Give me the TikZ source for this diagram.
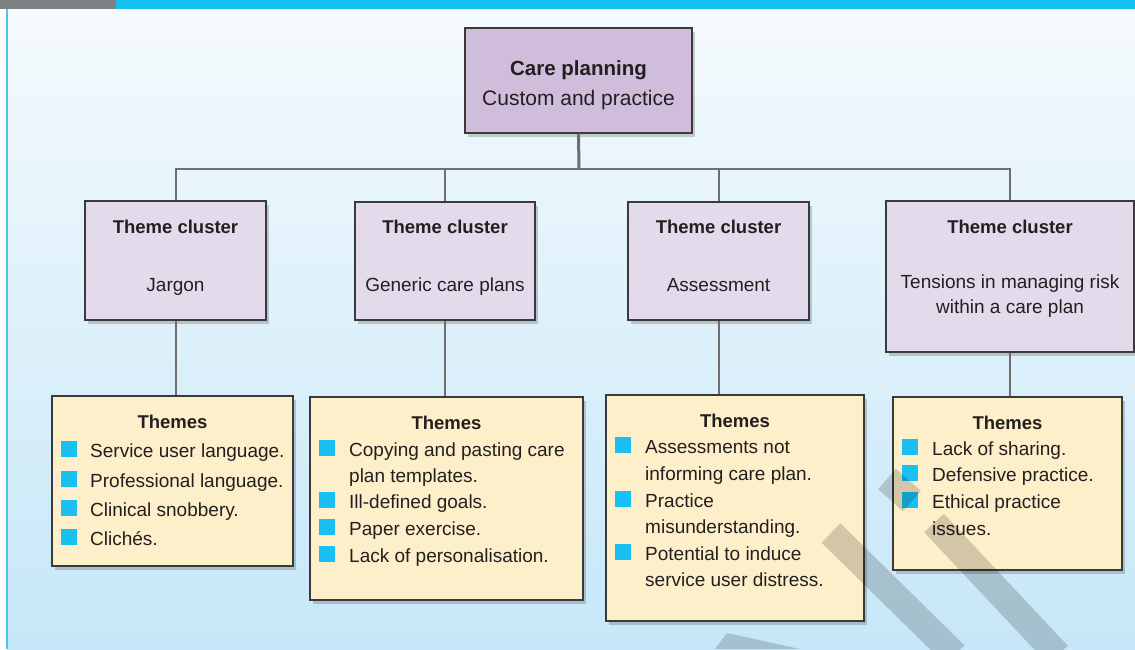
\documentclass[tikz,border=0pt]{standalone}
\usepackage{fontspec}
\setmainfont{Liberation Sans}
\usetikzlibrary{shadows}
\definecolor{bgtop}{HTML}{F5FAFD}
\definecolor{bgbot}{HTML}{C6E7F8}
\definecolor{bannergray}{HTML}{7F8083}
\definecolor{bannercyan}{HTML}{16C0F0}
\definecolor{edgecyan}{HTML}{4CC6EE}
\definecolor{topfill}{HTML}{D0BDDB}
\definecolor{clfill}{HTML}{E3DBEB}
\definecolor{thfill}{HTML}{FDEFC9}
\definecolor{boxline}{HTML}{3A3A3A}
\definecolor{connc}{HTML}{6E6E6E}
\definecolor{bulc}{HTML}{19C0F1}
\definecolor{ink}{HTML}{231F20}
\tikzset{
  box/.style={draw=boxline, line width=1.1pt, inner sep=0pt,
    drop shadow={shadow xshift=3pt, shadow yshift=-4pt, opacity=0.18, fill=black}},
  topbox/.style={box, fill=topfill},
  clbox/.style={box, fill=clfill},
  thbox/.style={box, fill=thfill},
  conn/.style={draw=connc, line width=2pt},
  txt/.style={anchor=base west, inner sep=0pt, text=ink, font=\fontsize{19pt}{23pt}\selectfont},
  ctxt/.style={txt, anchor=base},
  hd/.style={anchor=base, inner sep=0pt, text=ink, font=\fontsize{18.5pt}{22pt}\selectfont\bfseries},
  bigtxt/.style={anchor=base, inner sep=0pt, text=ink, font=\fontsize{21pt}{25pt}\selectfont},
  bul/.style={fill=bulc, inner sep=0pt, minimum size=16pt, anchor=south west},
  band/.style={draw=black, line width=27pt, draw opacity=0.17, line cap=butt},
}
\begin{document}
\begin{tikzpicture}[x=1pt,y=-1pt]
\useasboundingbox (0,0) rectangle (1135,649);
% background
\fill[white] (0,0) rectangle (1135,649);
\shade[top color=bgtop, bottom color=bgbot] (7,9) rectangle (1135,649);
\draw[edgecyan, line width=1.5pt] (7,9) -- (7,649);
\fill[bannergray] (0,0) rectangle (116,9);
\fill[bannercyan] (116,0) rectangle (1135,9);

% top box
\node[topbox, minimum width=227pt, minimum height=105pt] (top) at (578.5,80.5) {};
\node[bigtxt, font=\fontsize{20.5pt}{25pt}\selectfont\bfseries] (topA) at (578.5,75) {Care planning};
\node[bigtxt] (topB) at (578.5,105) {Custom and practice};

% cluster boxes
\node[clbox, minimum width=181pt, minimum height=119pt] (c1) at (175.5,260.5) {};
\node[clbox, minimum width=180pt, minimum height=118pt] (c2) at (445,261) {};
\node[clbox, minimum width=181pt, minimum height=118pt] (c3) at (718.5,261) {};
\node[clbox, minimum width=248pt, minimum height=151pt] (c4) at (1010,276.5) {};

\node[hd] (c1h) at (175.5,233) {Theme cluster};
\node[hd] (c2h) at (445,233) {Theme cluster};
\node[hd] (c3h) at (718.5,233) {Theme cluster};
\node[hd] (c4h) at (1010,233) {Theme cluster};
\node[ctxt] (c1t) at (175.5,291) {Jargon};
\node[ctxt] (c2t) at (445,291) {Generic care plans};
\node[ctxt] (c3t) at (718.5,291) {Assessment};
\node[ctxt] (c4t) at (1010,288) {Tensions in managing risk};
\node[ctxt] (c4u) at (1010,313) {within a care plan};

% themes boxes
\node[thbox, minimum width=241pt, minimum height=170pt] (th1) at (172.5,481) {};
\node[thbox, minimum width=273pt, minimum height=203pt] (th2) at (446.5,498.5) {};
\node[thbox, minimum width=258pt, minimum height=226pt] (th3) at (735,508) {};
\node[thbox, minimum width=229pt, minimum height=173pt] (th4) at (1007.5,483.5) {};

% connectors
\coordinate (hub) at (579,169);
\draw[conn, line width=3pt] (top.south) -- (hub);
\draw[conn] (c1.north) |- (hub) -| (c4.north);
\draw[conn] (c2.north) -- (c2.north |- hub);
\draw[conn] (c3.north) -- (c3.north |- hub);
\draw[conn] (c1.south) -- (c1.south |- th1.north);
\draw[conn] (c2.south) -- (c2.south |- th2.north);
\draw[conn] (c3.south) -- (c3.south |- th3.north);
\draw[conn] (c4.south) -- (c4.south |- th4.north);

% themes box 1
\node[hd] (h1) at (172.5,428) {Themes};
\node[bul] (b11) at (61,457) {};
\node[bul] (b12) at (61,487) {};
\node[bul] (b13) at (61,516) {};
\node[bul] (b14) at (61,545) {};
\node[txt] (l11) at (90,457) {Service user language.};
\node[txt] (l12) at (90,487) {Professional language.};
\node[txt] (l13) at (90,516) {Clinical snobbery.};
\node[txt] (l14) at (90,545) {Clichés.};

% themes box 2
\node[hd] (h2) at (446.5,429) {Themes};
\node[bul] (b21) at (319,456) {};
\node[bul] (b22) at (319,508) {};
\node[bul] (b23) at (319,535) {};
\node[bul] (b24) at (319,562) {};
\node[txt] (l21) at (349,456) {Copying and pasting care};
\node[txt] (l21b) at (349,482) {plan templates.};
\node[txt] (l22) at (349,508) {Ill-defined goals.};
\node[txt] (l23) at (349,535) {Paper exercise.};
\node[txt] (l24) at (349,562) {Lack of personalisation.};

% themes box 3
\node[hd] (h3) at (735,427) {Themes};
\node[bul] (b31) at (615,453) {};
\node[bul] (b32) at (615,507) {};
\node[bul] (b33) at (615,560) {};
\node[txt] (l31) at (645,453) {Assessments not};
\node[txt] (l31b) at (645,480) {informing care plan.};
\node[txt] (l32) at (645,507) {Practice};
\node[txt] (l32b) at (645,533) {misunderstanding.};
\node[txt] (l33) at (645,560) {Potential to induce};
\node[txt] (l33b) at (645,586) {service user distress.};

% themes box 4
\node[hd] (h4) at (1007.5,429) {Themes};
\node[bul] (b41) at (902,455) {};
\node[bul] (b42) at (902,481) {};
\node[bul] (b43) at (902,508) {};
\node[txt] (l41) at (932,455) {Lack of sharing.};
\node[txt] (l42) at (932,481) {Defensive practice.};
\node[txt] (l43) at (932,508) {Ethical practice};
\node[txt] (l43b) at (932,535) {issues.};

% watermark bands
\draw[band] (831,533) -- (955,655);
\draw[band] (887,479) -- (912,501);
\draw[band] (934,523) -- (1058,655);
\fill[black, opacity=0.17] (715,649) -- (727,633) -- (800,649) -- cycle;
\end{tikzpicture}
\end{document}
